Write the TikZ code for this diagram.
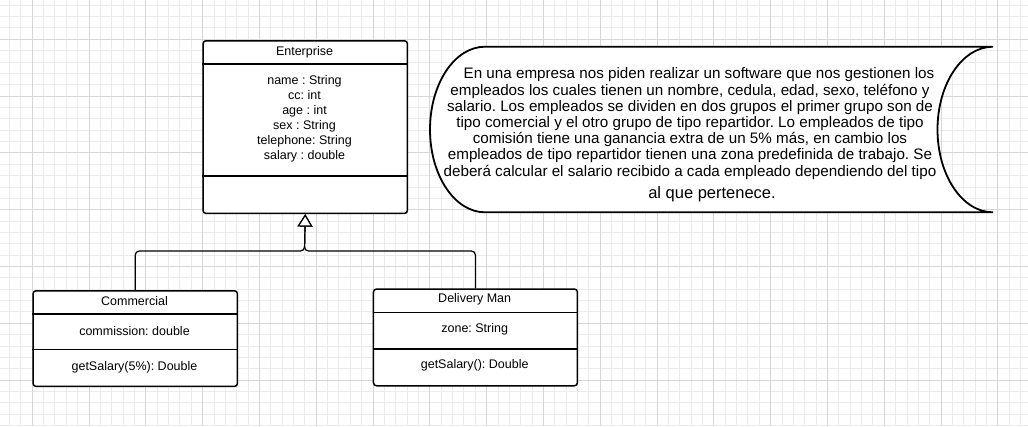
\documentclass[tikz,border=0pt]{standalone}
\usepackage{fontspec}
\setmainfont{Liberation Sans}
\usetikzlibrary{arrows.meta}
\frenchspacing
\begin{document}
\begin{tikzpicture}[x=1pt,y=-1pt,
  gridminor/.style={draw=black!8, line width=0.9pt},
  gridmajor/.style={draw=black!16, line width=0.9pt},
  umlbox/.style={draw=black, line width=1.5pt, rounded corners=3pt, anchor=north west, inner sep=0pt, fill=white},
  sep/.style={draw=black, line width=1.5pt},
  umltext/.style={font=\fontsize{12.5}{15.1}\selectfont, inner sep=0pt, align=center},
  conn/.style={draw=black, line width=1.2pt, rounded corners=4pt},
  gen/.style={-{Triangle[open, fill=white, width=15pt, length=12.4pt]}},
  story/.style={draw=black, line width=1.8pt, fill=white},
  storytext/.style={font=\fontsize{15.2}{16.2}\selectfont, inner sep=0pt, align=center},
]
\useasboundingbox (0,0) rectangle (1028,426);
\fill[white] (0,0) rectangle (1028,426);
% grid
\foreach \i in {0,...,90} { \draw[gridminor] ({9.5+11.36*\i},0) -- ({9.5+11.36*\i},426); }
\foreach \j in {0,...,37} { \draw[gridminor] (0,{5.2+11.36*\j}) -- (1028,{5.2+11.36*\j}); }
\foreach \i in {0,...,17} { \draw[gridmajor] ({32.2+56.8*\i},0) -- ({32.2+56.8*\i},426); }
\foreach \j in {0,...,6} { \draw[gridmajor] (0,{39.3+56.8*\j}) -- (1028,{39.3+56.8*\j}); }

% Enterprise
\node[umlbox, minimum width=204.4pt, minimum height=172.7pt] (ent) at (202.3,40) {};
\draw[sep] ([yshift=-24pt]ent.north west) -- ([yshift=-24pt]ent.north east);
\draw[sep] ([yshift=-136pt]ent.north west) -- ([yshift=-136pt]ent.north east);
\node[umltext] (entT) at (304.5,52) {Enterprise};
\node[umltext] (entA) at (304.5,119) {name : String\\cc: int\\age : int\\sex : String\\telephone: String\\salary : double};

% Commercial
\node[umlbox, minimum width=204.4pt, minimum height=95.7pt] (com) at (32.3,290) {};
\draw[sep] ([yshift=-24pt]com.north west) -- ([yshift=-24pt]com.north east);
\draw[sep] ([yshift=-59.3pt]com.north west) -- ([yshift=-59.3pt]com.north east);
\node[umltext] (comT) at (134.5,301) {Commercial};
\node[umltext] (comA) at (134.5,330.7) {commission: double};
\node[umltext] (comM) at (134.5,367.3) {getSalary(5\%): Double};

% Delivery Man
\node[umlbox, minimum width=204pt, minimum height=96.7pt] (del) at (372.7,288.3) {};
\draw[sep] ([yshift=-24pt]del.north west) -- ([yshift=-24pt]del.north east);
\draw[sep] ([yshift=-60.7pt]del.north west) -- ([yshift=-60.7pt]del.north east);
\node[umltext] (delT) at (474.7,299.5) {Delivery Man};
\node[umltext] (delA) at (474.7,329) {zone: String};
\node[umltext] (delM) at (474.7,365) {getSalary(): Double};

% generalization
\coordinate (bend) at (304.5,251);
\draw[conn, gen] (com.north) |- (bend) -- (ent.south);
\draw[conn, gen] (del.north) |- (bend) -- (ent.south);

% description shape
\draw[story] (485,46.7) -- (993,46.7)
  .. controls (962.3,46.7) and (937.5,83.8) .. (937.5,129.5)
  .. controls (937.5,175.2) and (962.3,212.3) .. (993,212.3)
  -- (485,212.3)
  .. controls (454.6,212.3) and (430,175.2) .. (430,129.5)
  .. controls (430,83.8) and (454.6,46.7) .. (485,46.7) -- cycle;
\node[storytext] (desc) at (690,123.5) {\hspace*{18pt}En una empresa nos piden realizar un software que nos gestionen los\\
empleados los cuales tienen un nombre, cedula, edad, sexo, teléfono y\\
salario. Los empleados se dividen en dos grupos el primer grupo son de\\
tipo comercial y el otro grupo de tipo repartidor. Lo empleados de tipo\\
comisión tiene una ganancia extra de un 5\% más, en cambio los\\
empleados de tipo repartidor tienen una zona predefinida de trabajo. Se\\
deberá calcular el salario recibido a cada empleado dependiendo del tipo};
\node[storytext, font=\fontsize{16.5}{19}\selectfont] (desc2) at (712,194) {al que pertenece.};
\end{tikzpicture}
\end{document}
